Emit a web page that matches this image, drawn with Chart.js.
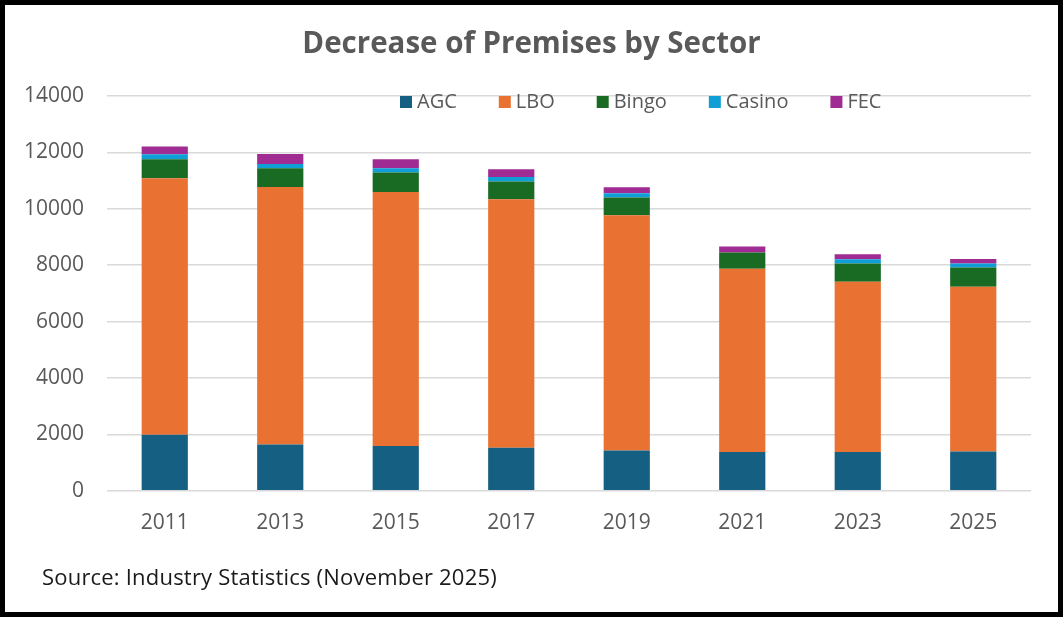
<!DOCTYPE html>
<html>
<head>
<meta charset="utf-8">
<title>Decrease of Premises by Sector</title>
<script src="https://cdn.jsdelivr.net/npm/chart.js@4/dist/chart.umd.min.js"></script>
<style>
  html, body { margin: 0; padding: 0; background: #fff; }
  .frame {
    position: relative;
    width: 1063px;
    height: 617px;
    box-sizing: border-box;
    border: 5px solid #000;
    background: #fff;
  }
  .frame canvas { display: block; }
  .source {
    position: absolute;
    left: 37px;
    top: 559px;
    font: 22px "Open Sans", "Liberation Sans", sans-serif;
    letter-spacing: 0.2px;
    line-height: 24px;
    color: #1a1a1a;
    white-space: nowrap;
  }
</style>
</head>
<body>
<div class="frame">
  <canvas id="premisesChart" width="1053" height="607"></canvas>
  <div class="source">Source: Industry Statistics (November 2025)</div>
</div>
<script>
const years = ['2011', '2013', '2015', '2017', '2019', '2021', '2023', '2025'];

// premises per sector
const agc    = [1990, 1640, 1585, 1525, 1430, 1380, 1380, 1390];
const lbo    = [9095, 9136, 9015, 8815, 8343, 6490, 6029, 5842];
const bingo  = [673, 664, 683, 624, 624, 578, 649, 684];
const casino = [177, 152, 157, 167, 156, 0, 156, 142];
const fec    = [270, 354, 318, 273, 213, 212, 177, 166];

const yTicks = [0, 2000, 4000, 6000, 8000, 10000, 12000, 14000];

const FONT = '"Open Sans", "Liberation Sans", sans-serif';
const GREY = '#595959';

// legend sits inside the plot, to the right, so it is drawn by hand
const sectorLegend = {
  id: 'sectorLegend',
  afterLayout(chart) {
    // centre the title on the whole canvas, not on the padded box
    if (chart.titleBlock) {
      chart.titleBlock.left = 0;
      chart.titleBlock.right = chart.width;
    }
  },
  afterDraw(chart) {
    const { ctx, chartArea } = chart;
    let x = chartArea.left + 293;
    const y = chartArea.top + 6;
    ctx.save();
    ctx.font = '20px ' + FONT;
    ctx.textBaseline = 'middle';
    ctx.textAlign = 'left';
    chart.data.datasets.forEach(ds => {
      ctx.fillStyle = ds.backgroundColor;
      ctx.fillRect(x, y - 6, 12, 12);
      ctx.fillStyle = GREY;
      ctx.fillText(ds.label, x + 17, y);
      x += 17 + ctx.measureText(ds.label).width + 42;
    });
    ctx.restore();
  }
};

const ctx = document.getElementById('premisesChart');

new Chart(ctx, {
  type: 'bar',
  data: {
    labels: years,
    datasets: [
      { label: 'AGC', data: agc, backgroundColor: '#156082' },
      { label: 'LBO', data: lbo, backgroundColor: '#E97132' },
      { label: 'Bingo', data: bingo, backgroundColor: '#196B24' },
      { label: 'Casino', data: casino, backgroundColor: '#0F9ED5' },
      { label: 'FEC', data: fec, backgroundColor: '#A02B93' }
    ]
  },
  options: {
    responsive: false,
    animation: false,
    devicePixelRatio: 1,
    datasets: {
      bar: {
        barPercentage: 0.4,
        categoryPercentage: 1,
        borderWidth: 0
      }
    },
    layout: {
      padding: { top: 5, left: 12, right: 27, bottom: 56 }
    },
    plugins: {
      legend: { display: false },
      tooltip: { enabled: false },
      title: {
        display: true,
        text: 'Decrease of Premises by Sector',
        color: GREY,
        font: { family: FONT, size: 29.5, weight: 'bold' },
        padding: { top: 17.3, bottom: 33.3 }
      }
    },
    scales: {
      x: {
        stacked: true,
        grid: { display: false, drawTicks: false },
        border: { display: false },
        ticks: {
          color: GREY,
          font: { family: FONT, size: 21 },
          padding: 20,
          maxRotation: 0
        }
      },
      y: {
        stacked: true,
        min: 0,
        max: 14000,
        afterBuildTicks: scale => {
          scale.ticks = yTicks.map(v => ({ value: v }));
        },
        afterFit: scale => {
          scale.width = 90;
        },
        grid: {
          color: '#d9d9d9',
          lineWidth: 1.5,
          drawTicks: false
        },
        border: { display: false },
        ticks: {
          color: GREY,
          font: { family: FONT, size: 21 },
          padding: 23,
          callback: value => String(value)
        }
      }
    }
  },
  plugins: [sectorLegend]
});
</script>
</body>
</html>
